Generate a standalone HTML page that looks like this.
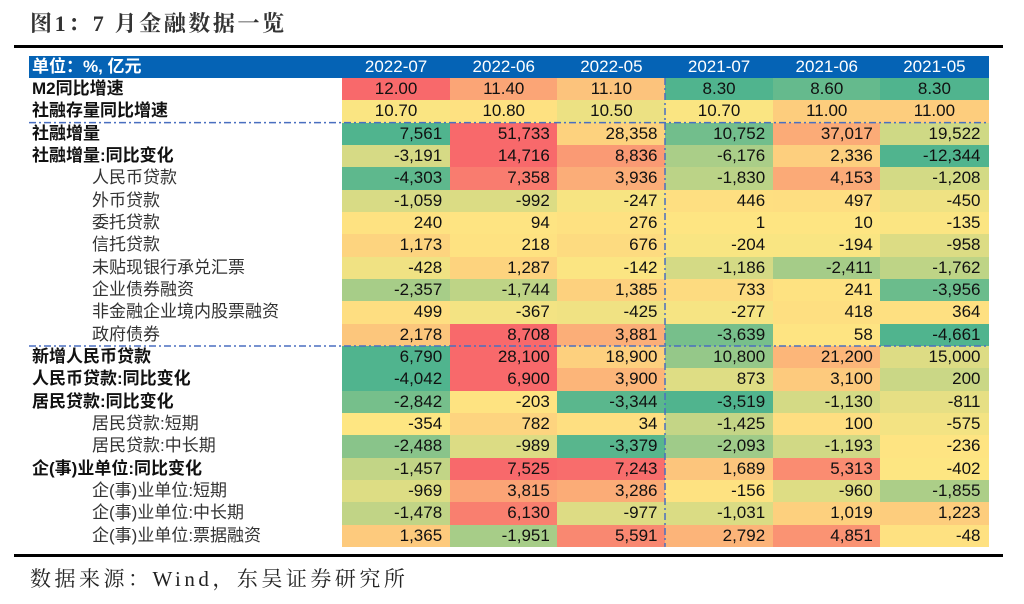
<!DOCTYPE html>
<html><head><meta charset="utf-8">
<style>
html,body{margin:0;padding:0;background:#fff;width:1024px;height:604px;overflow:hidden;position:relative}
#title{position:absolute;left:30px;top:7px;font:bold 22px "Liberation Serif","Noto Serif CJK SC",serif;color:#333;letter-spacing:2.6px}
.rule{position:absolute;left:14px;width:989px;background:#000}
#src{position:absolute;left:30px;top:563px;font:21px "Liberation Serif","Noto Serif CJK SC",serif;color:#222;letter-spacing:3.5px}
#tbl{position:absolute;left:29px;top:56px;width:959px}
.cell{position:absolute;box-sizing:border-box;font:17px "Liberation Sans","Noto Sans CJK SC",sans-serif;color:#111;white-space:nowrap;line-height:22px}
.hdr{background:#0563b5;color:#fff;text-align:center;height:21px;line-height:21px}
</style></head><body>
<div id="title">图1：7 月金融数据一览</div>
<div class="rule" style="top:45px;height:3px"></div>
<div id="tbl"></div>
<svg id="dash" width="1024" height="604" style="position:absolute;left:0;top:0;pointer-events:none"></svg>
<div class="rule" style="top:554px;height:3px"></div>
<div id="src">数据来源：Wind，东吴证券研究所</div>
<script>
const columns = ["2022-07","2022-06","2022-05","2021-07","2021-06","2021-05"];
const rowLabels = ["M2同比增速","社融存量同比增速","社融增量","社融增量:同比变化","人民币贷款","外币贷款","委托贷款","信托贷款","未贴现银行承兑汇票","企业债券融资","非金融企业境内股票融资","政府债券","新增人民币贷款","人民币贷款:同比变化","居民贷款:同比变化","居民贷款:短期","居民贷款:中长期","企(事)业单位:同比变化","企(事)业单位:短期","企(事)业单位:中长期","企(事)业单位:票据融资"];
const rowIndent = [0,0,0,0,1,1,1,1,1,1,1,1,0,0,0,1,1,0,1,1,1];
const rowGroup = [1,1,2,3,4,4,4,4,4,4,4,4,5,6,7,7,7,7,7,7,7];
const m2 = [12.00,11.40,11.10,8.30,8.60,8.30];
const tsfStock = [10.70,10.80,10.50,10.70,11.00,11.00];
const tsfFlow = [7561,51733,28358,10752,37017,19522];
const tsfYoy = [-3191,14716,8836,-6176,2336,-12344];
const rmbLoan = [-4303,7358,3936,-1830,4153,-1208];
const fxLoan = [-1059,-992,-247,446,497,-450];
const entrusted = [240,94,276,1,10,-135];
const trust = [1173,218,676,-204,-194,-958];
const bankers = [-428,1287,-142,-1186,-2411,-1762];
const corpBond = [-2357,-1744,1385,733,241,-3956];
const equity = [499,-367,-425,-277,418,364];
const govBond = [2178,8708,3881,-3639,58,-4661];
const newLoan = [6790,28100,18900,10800,21200,15000];
const loanYoy = [-4042,6900,3900,873,3100,200];
const hhYoy = [-2842,-203,-3344,-3519,-1130,-811];
const hhShort = [-354,782,34,-1425,100,-575];
const hhLong = [-2488,-989,-3379,-2093,-1193,-236];
const corpYoy = [-1457,7525,7243,1689,5313,-402];
const corpShort = [-969,3815,3286,-156,-960,-1855];
const corpLong = [-1478,6130,-977,-1031,1019,1223];
const corpBill = [1365,-1951,5591,2792,4851,-48];
const series = [m2,tsfStock,tsfFlow,tsfYoy,rmbLoan,fxLoan,entrusted,trust,bankers,corpBond,equity,govBond,newLoan,loanYoy,hhYoy,hhShort,hhLong,corpYoy,corpShort,corpLong,corpBill];

const G=[80,180,142],Y=[254,230,130],R=[248,105,107];
function mix(a,b,t){return 'rgb('+a.map((v,i)=>Math.round(v+(b[i]-v)*t)).join(',')+')';}
function median(a){const s=[...a].sort((x,y)=>x-y);const n=s.length;return n%2?s[(n-1)/2]:(s[n/2-1]+s[n/2])/2;}
const groupStats={};
series.forEach((r,i)=>{const g=rowGroup[i];(groupStats[g]=groupStats[g]||[]).push(...r);});
const scales={};
for(const g in groupStats){const a=groupStats[g];scales[g]={min:Math.min(...a),max:Math.max(...a),mid:median(a)};}
function colorFor(v,g){const s=scales[g];
  if(v<=s.mid){const t=s.mid===s.min?1:(v-s.min)/(s.mid-s.min);return mix(G,Y,Math.max(0,Math.min(1,t)));}
  const t=s.max===s.mid?0:(v-s.mid)/(s.max-s.mid);return mix(Y,R,Math.max(0,Math.min(1,t)));}
function fmt(v,i){return i<2?v.toFixed(2):v.toLocaleString('en-US');}

const tbl=document.getElementById('tbl');
const labelW=313,colW=107.67,hdrH=22,rowH=22.33;
function add(cls,x,y,w,h,txt){const d=document.createElement('div');d.className='cell '+cls;
  d.style.left=x+'px';d.style.top=y+'px';d.style.width=w+'px';d.style.height=h+'px';d.textContent=txt;tbl.appendChild(d);return d;}
const h0=add('hdr',0,0,labelW,hdrH,'单位：%, 亿元');


h0.style.textAlign='left';h0.style.paddingLeft='3px';h0.style.fontWeight='bold';
columns.forEach((c,j)=>{const d=add('hdr',labelW+j*colW,0,colW+0.5,hdrH,c);
  
  });
series.forEach((r,i)=>{
  const y=hdrH+i*rowH;
  const l=add('',0,y,labelW,rowH,rowLabels[i]);
  
  
  if(rowIndent[i]){l.style.paddingLeft='63px';l.style.color='#333';}else{l.style.paddingLeft='3px';l.style.fontWeight='bold';}
  r.forEach((v,j)=>{
    const d=add('',labelW+j*colW,y,colW+0.5,rowH+0.5,fmt(v,i));
    
    
    d.style.background=colorFor(v,rowGroup[i]);
    if(i<2){d.style.textAlign='center';}else{d.style.textAlign='right';d.style.paddingRight='8px';}
  });
});
const svg=document.getElementById('dash');
const ox=29,oy=56;
function line(x1,y1,x2,y2){const l=document.createElementNS('http://www.w3.org/2000/svg','line');
  l.setAttribute('x1',x1);l.setAttribute('y1',y1);l.setAttribute('x2',x2);l.setAttribute('y2',y2);
  l.setAttribute('stroke','#4a6fc0');l.setAttribute('stroke-width','1.5');l.setAttribute('stroke-dasharray','7,3,2,3');
  
  
  svg.appendChild(l);}
line(ox,oy+hdrH+2*rowH,ox+959,oy+hdrH+2*rowH);
line(ox,oy+hdrH+12*rowH,ox+959,oy+hdrH+12*rowH);
line(ox+labelW+3*colW,oy+hdrH,ox+labelW+3*colW,oy+hdrH+21*rowH);
</script>
</body></html>
